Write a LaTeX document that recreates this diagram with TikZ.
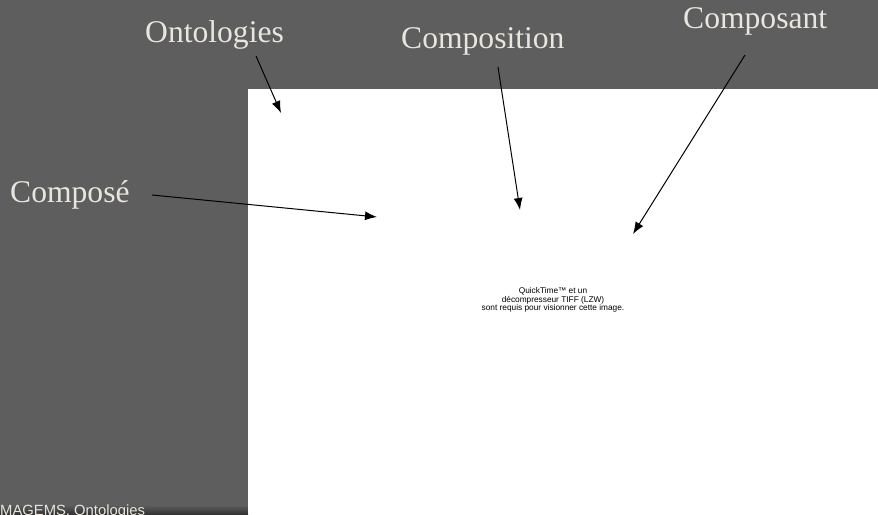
\documentclass[tikz,border=0pt]{standalone}
\usepackage{fontspec}
\setmainfont{Liberation Serif}
\newfontfamily\helv{Liberation Sans}
\usetikzlibrary{arrows.meta}
\definecolor{bggray}{HTML}{5E5E5E}
\definecolor{labelcol}{HTML}{E8E6DE}
\tikzset{
  biglabel/.style={text=labelcol, font=\fontsize{31.6}{34}\selectfont, inner sep=0pt, anchor=base west},
  pointer/.style={draw=black, line width=1pt, -{Latex[length=12pt,width=9pt]}},
  smalltxt/.style={font=\helv\fontsize{8.3}{8.8}\selectfont, align=center, inner sep=0pt, text=black}
}
\begin{document}
\begin{tikzpicture}[x=1pt,y=-1pt]
\useasboundingbox (0,0) rectangle (878,514);
\fill[bggray] (0,0) rectangle (878,514);
\shade[top color=bggray, bottom color=black!45!bggray] (0,505) rectangle (248,514);
\fill[white] (248,89) rectangle (878,514);
% labels
\node[biglabel] (ont) at (145,42) {Ontologies};
\node[biglabel] (cpn) at (401,48) {Composition};
\node[biglabel] (cpt) at (683,28) {Composant};
\node[biglabel] (cpe) at (10,202) {Composé};
% arrow ends
\coordinate (ontS) at (256,56);
\coordinate (ontT) at (281,113);
\coordinate (cpnS) at (498,67);
\coordinate (cpnT) at (520,210);
\coordinate (cptS) at (745,55);
\coordinate (cptT) at (633,234);
\coordinate (cpeS) at (152,195);
\coordinate (cpeT) at (377,217);
\draw[pointer] (ontS) -- (ontT);
\draw[pointer] (cpnS) -- (cpnT);
\draw[pointer] (cptS) -- (cptT);
\draw[pointer] (cpeS) -- (cpeT);
% placeholder text
\node[smalltxt] (qt) at (553,300) {QuickTime™ et un\\décompresseur TIFF (LZW)\\sont requis pour visionner cette image.};
% footer
\begin{scope}
\clip (0,0) rectangle (248,514);
\node[font=\helv\fontsize{14.8}{16}\selectfont, text=labelcol, inner sep=0pt, anchor=base west] (foot) at (0,515) {MAGEMS, Ontologies};
\end{scope}
\end{tikzpicture}
\end{document}
